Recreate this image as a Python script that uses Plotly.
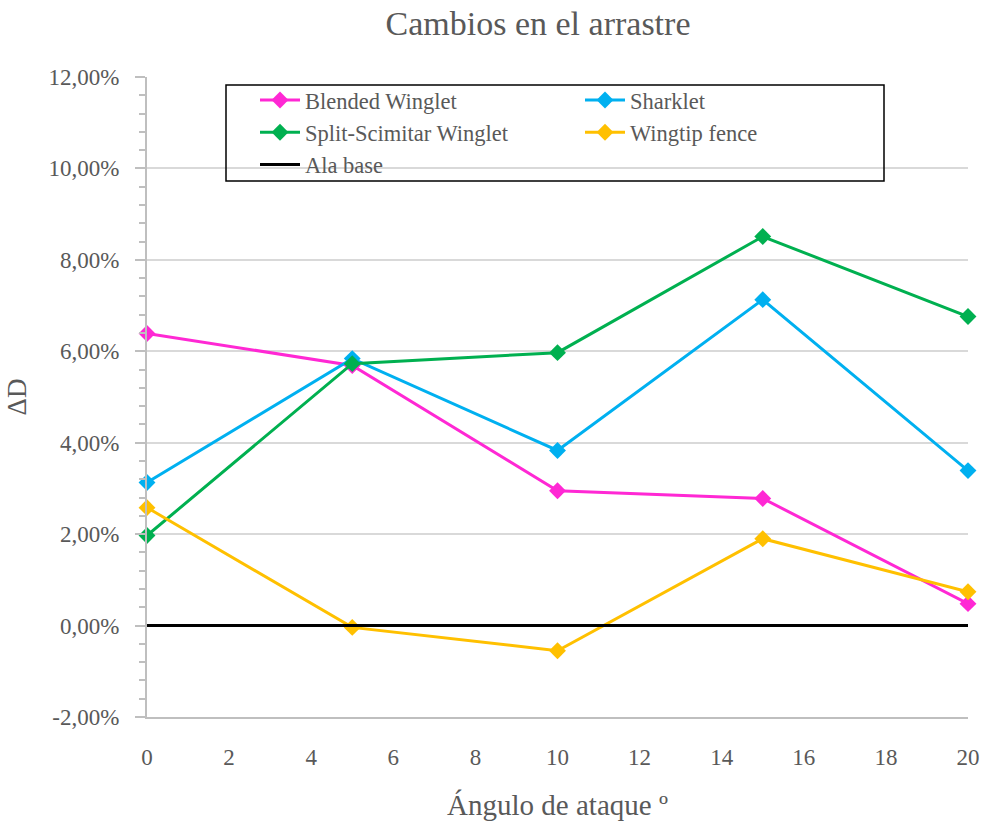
import plotly.graph_objects as go

# Angle of attack (degrees)
angles = [0, 5, 10, 15, 20]

# Drag change relative to the base wing (fraction)
blended = [0.0639, 0.0569, 0.0295, 0.0278, 0.0048]
sharklet = [0.0313, 0.0584, 0.0383, 0.0713, 0.0339]
split_scimitar = [0.0197, 0.0573, 0.0597, 0.0851, 0.0676]
wingtip_fence = [0.0258, -0.0004, -0.0055, 0.0190, 0.0074]
ala_base = [0, 0, 0, 0, 0]

# Y axis ticks (fraction)
y_ticks = [-0.02, 0.0, 0.02, 0.04, 0.06, 0.08, 0.10, 0.12]
y_labels = [f"{v * 100:.2f}%".replace(".", ",") for v in y_ticks]

series = [
    ("Blended Winglet", blended, "#ff28d4", True),
    ("Sharklet", sharklet, "#00b0f0", True),
    ("Split-Scimitar Winglet", split_scimitar, "#00b050", True),
    ("Wingtip fence", wingtip_fence, "#ffc000", True),
    ("Ala base", ala_base, "#000000", False),
]

FONT = "Liberation Serif"
TXT = "#595959"
AX = "#bfbfbf"

fig = go.Figure()
for name, vals, color, mark in series:
    fig.add_trace(go.Scatter(
        x=angles, y=vals, name=name,
        mode="lines+markers" if mark else "lines",
        line=dict(color=color, width=3),
        marker=dict(symbol="diamond", size=13, color=color,
                    line=dict(width=0)),
        cliponaxis=False,
    ))

fig.update_layout(
    template="none",
    width=985, height=823,
    margin=dict(l=147, r=17, t=77, b=106),
    paper_bgcolor="white", plot_bgcolor="white",
    font=dict(family=FONT, color=TXT, size=18),
    title=dict(text="Cambios en el arrastre", x=538 / 985, xanchor="center",
               y=0.972, yanchor="middle",
               font=dict(family=FONT, size=34, color=TXT)),
    showlegend=True,
    legend=dict(orientation="h", x=(255 - 147) / 821, y=0.997,
                xanchor="left", yanchor="top",
                entrywidth=270, entrywidthmode="pixels",
                bgcolor="rgba(0,0,0,0)", borderwidth=0,
                font=dict(family=FONT, size=22.5, color=TXT),
                tracegroupgap=0, itemwidth=40),
    xaxis=dict(
        automargin=False,
        range=[0, 20], tickmode="linear", tick0=0, dtick=2,
        showgrid=False, zeroline=False,
        showline=True, linecolor=AX, linewidth=2,
        ticks="", ticklabelstandoff=18,
        tickfont=dict(family=FONT, size=23, color=TXT),
        title=dict(text="Ángulo de ataque º", standoff=26,
                   font=dict(family=FONT, size=29, color=TXT)),
    ),
    yaxis=dict(
        automargin=False,
        range=[-0.02, 0.12], tickmode="array", tickvals=y_ticks, ticktext=y_labels,
        showgrid=True, gridcolor="#d9d9d9", gridwidth=1.5,
        zeroline=False,
        showline=True, linecolor=AX, linewidth=2,
        ticks="outside", ticklen=10, tickcolor=AX, tickwidth=2,
        ticklabelstandoff=11,
        minor=dict(tickmode="linear", tick0=-0.02, dtick=0.004, ticks="outside",
                   ticklen=6, tickcolor=AX, tickwidth=2, showgrid=False),
        tickfont=dict(family=FONT, size=23, color=TXT),
        title=dict(text="ΔD", standoff=14,
                   font=dict(family=FONT, size=27, color=TXT)),
    ),
)

# Legend frame
fig.add_shape(type="rect", xref="paper", yref="paper",
              x0=(226 - 147) / 821, x1=(884 - 147) / 821,
              y0=(717 - 181) / 640, y1=(717 - 85) / 640,
              line=dict(color="black", width=1.5), fillcolor="rgba(0,0,0,0)",
              layer="above")

fig.write_html("out.html")
